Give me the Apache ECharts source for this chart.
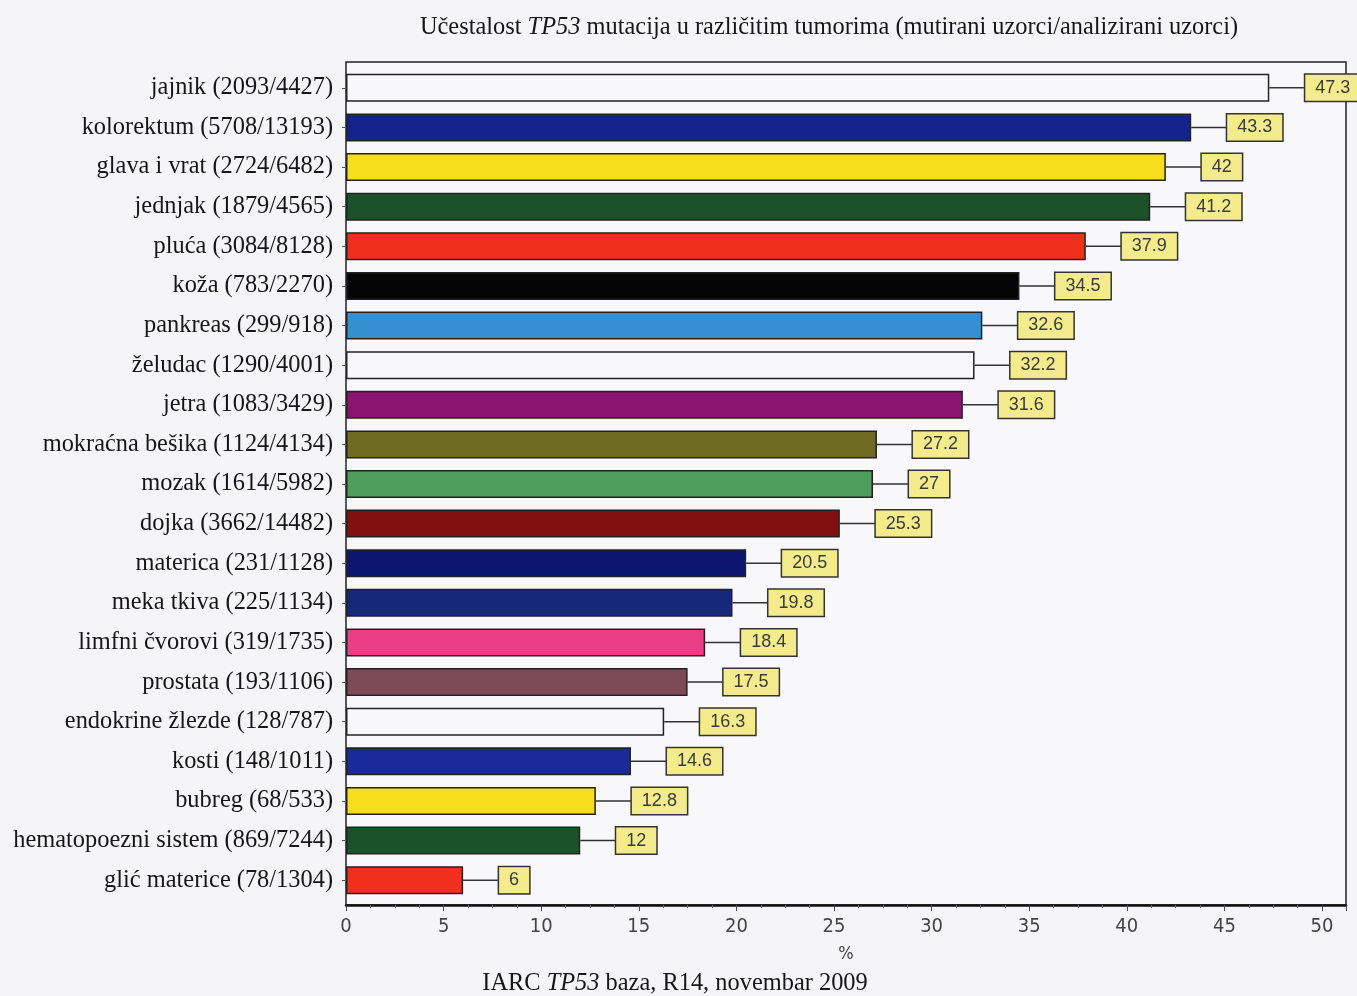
<!DOCTYPE html>
<html>
<head>
<meta charset="utf-8">
<script src="https://cdn.jsdelivr.net/npm/echarts@6/dist/echarts.min.js"></script>
<style>
  html, body { margin: 0; padding: 0; background: #f5f4f7; }
  #chart { width: 1357px; height: 996px; }
</style>
</head>
<body>
<div id="chart"></div>
<script>
// Tumour sites with mutated / analysed sample counts
const categories = [
  'jajnik (2093/4427)',
  'kolorektum (5708/13193)',
  'glava i vrat (2724/6482)',
  'jednjak (1879/4565)',
  'pluća (3084/8128)',
  'koža (783/2270)',
  'pankreas (299/918)',
  'želudac (1290/4001)',
  'jetra (1083/3429)',
  'mokraćna bešika (1124/4134)',
  'mozak (1614/5982)',
  'dojka (3662/14482)',
  'materica (231/1128)',
  'meka tkiva (225/1134)',
  'limfni čvorovi (319/1735)',
  'prostata (193/1106)',
  'endokrine žlezde (128/787)',
  'kosti (148/1011)',
  'bubreg (68/533)',
  'hematopoezni sistem (869/7244)',
  'glić materice (78/1304)'
];

// TP53 mutation frequency, %
const values = [47.3, 43.3, 42, 41.2, 37.9, 34.5, 32.6, 32.2, 31.6, 27.2, 27,
                25.3, 20.5, 19.8, 18.4, 17.5, 16.3, 14.6, 12.8, 12, 6];

const barColors = [
  '#f8f8fa', '#14238c', '#f6de1e', '#1b5228', '#f0301c', '#050505',
  '#3590d2', '#f8f8fa', '#8a1470', '#6e6a22', '#4f9e5c', '#821010',
  '#0c1670', '#16287a', '#e83f86', '#7e4a58', '#f8f8fa', '#1a2a98',
  '#f6de1e', '#1b5228', '#f0301c'
];

const xTicks = { min: 0, max: 51.23, interval: 5 };

const serif = '"Liberation Serif", "DejaVu Serif", serif';
const narrow = '"Liberation Sans Narrow", "DejaVu Sans Condensed", "Liberation Sans", Arial, sans-serif';
const sans = '"Liberation Sans", Arial, sans-serif';

const LABEL_GAP = 36;

const chart = echarts.init(document.getElementById('chart'), null, { renderer: 'canvas' });

function titleText(parts, x, y) {
  return {
    type: 'text',
    x: x, y: y,
    style: {
      text: parts,
      align: 'center', verticalAlign: 'middle',
      rich: {
        n: { fontFamily: serif, fontSize: 24.4, fill: '#161616' },
        i: { fontFamily: serif, fontSize: 24.4, fontStyle: 'italic', fill: '#161616' }
      }
    }
  };
}

chart.setOption({
  backgroundColor: '#f5f4f7',
  animation: false,
  graphic: [
    titleText('{n|Učestalost }{i|TP53}{n| mutacija u različitim tumorima (mutirani uzorci/analizirani uzorci)}', 829, 28),
    titleText('{n|IARC }{i|TP53}{n| baza, R14, novembar 2009}', 675, 984)
  ],
  grid: [
    // frame with the value axis
    { left: 346, top: 62, width: 1000, height: 843, show: true,
      borderColor: '#222', borderWidth: 1.5, backgroundColor: '#f8f8fa' },
    // bars
    { left: 346, top: 68, width: 1000, height: 832 }
  ],
  xAxis: [
    {
      gridIndex: 0, type: 'value',
      min: xTicks.min, max: xTicks.max, interval: xTicks.interval,
      name: '%', nameLocation: 'middle', nameGap: 40,
      nameTextStyle: { fontFamily: narrow, fontSize: 18, color: '#444' },
      axisLine: { show: true, lineStyle: { color: '#111', width: 2.5 } },
      axisTick: { show: true, length: 6, lineStyle: { color: '#444' } },
      minorTick: { show: true, splitNumber: 4, length: 3, lineStyle: { color: '#666' } },
      axisLabel: { showMaxLabel: false, fontFamily: narrow, fontSize: 20, color: '#444', margin: 12 },
      splitLine: { show: false }
    },
    {
      gridIndex: 1, type: 'value',
      min: xTicks.min, max: xTicks.max,
      show: false
    }
  ],
  yAxis: [
    { gridIndex: 0, type: 'value', show: false },
    {
      gridIndex: 1, type: 'category', inverse: true,
      data: categories,
      axisLine: { show: false },
      axisTick: { show: true, alignWithLabel: true, length: 4, lineStyle: { color: '#555' } },
      axisLabel: { fontFamily: serif, fontSize: 24.4, color: '#161616', margin: 13 }
    }
  ],
  series: [
    {
      type: 'custom',
      xAxisIndex: 1, yAxisIndex: 1,
      silent: true,
      data: values.map((v, i) => [v, i]),
      renderItem: function (params, api) {
        const p = api.coord([api.value(0), api.value(1)]);
        return {
          type: 'line',
          shape: { x1: p[0], y1: p[1], x2: p[0] + LABEL_GAP, y2: p[1] },
          style: { stroke: '#333', lineWidth: 1.5 }
        };
      },
      z: 1
    },
    {
      type: 'bar',
      xAxisIndex: 1, yAxisIndex: 1,
      barWidth: 28,
      data: values.map((v, i) => ({
        value: v,
        itemStyle: { color: barColors[i] }
      })),
      itemStyle: { borderColor: '#222', borderWidth: 1.5 },
      label: {
        show: true,
        position: 'right',
        distance: LABEL_GAP,
        fontFamily: sans,
        fontSize: 18,
        color: '#3a3a3a',
        backgroundColor: '#f4ec8c',
        borderColor: '#333',
        borderWidth: 1.5,
        padding: [4, 10, 2, 10],
        lineHeight: 20
      },
      z: 2
    }
  ]
});
</script>
</body>
</html>
